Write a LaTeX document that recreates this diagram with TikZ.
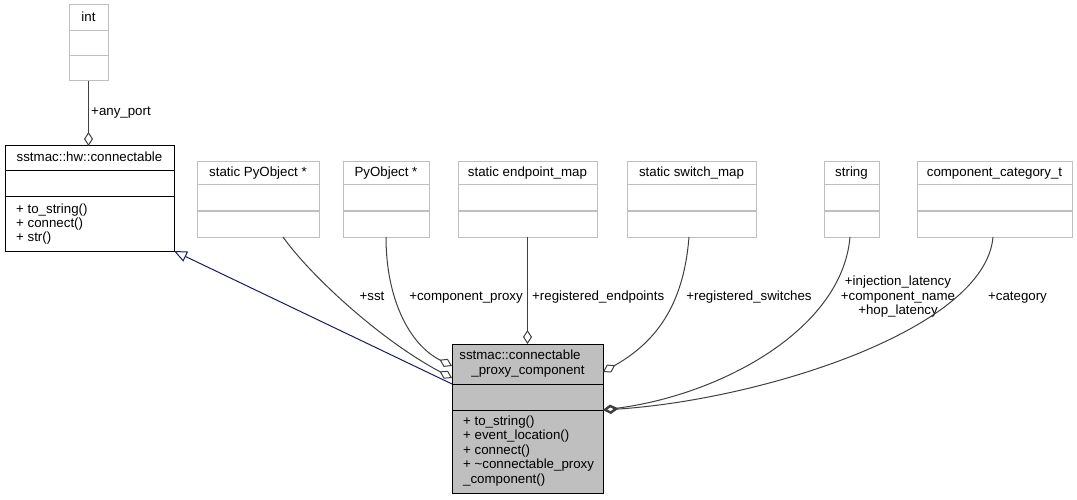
\documentclass[tikz,border=0pt]{standalone}
\usepackage{fontspec}
\setmainfont{Liberation Sans}
\usetikzlibrary{arrows.meta}
\definecolor{edgegray}{HTML}{404040}
\definecolor{boxgray}{HTML}{BFBFBF}
\definecolor{inhblue}{HTML}{191970}
\tikzset{
  umlbox/.style={draw=boxgray, fill=white, inner sep=0pt, outer sep=0pt, anchor=north west, line width=1pt},
  txt/.style={inner sep=0pt, text height=9.5pt, text depth=3pt},
  assoc/.style={draw=edgegray, line width=1pt, -{Diamond[open, length=14pt, width=9pt, line width=1pt]}},
  assocbold/.style={draw=edgegray, line width=1pt, -{Diamond[open, length=15pt, width=9pt, line width=2pt]}},
  inh/.style={draw=inhblue, line width=1pt, -{Triangle[open, length=13pt, width=11pt, line width=1pt]}}
}
\newcommand\cls[8][boxgray]{%
  \node[umlbox, draw=#1, minimum width={#5-#3}, minimum height={#6-#4}] (#2) at (#3,#4) {};
  \draw[#1, line width=1pt] (#3,#7) -- (#5,#7) (#3,#8) -- (#5,#8);
}
\begin{document}
\begin{tikzpicture}[x=1pt, y=-1pt, font=\fontsize{13.3}{14.5}\selectfont]
\useasboundingbox (0,0) rectangle (1077,500);
% classes
\cls{intbox}{69}{5}{108}{81}{31}{56}
\node[txt] (intT) at (88.5,18) {int};
\cls[black]{conn}{5}{146}{174}{251}{171}{197}
\node[txt] (connT) at (89.5,158) {sstmac::hw::connectable};
\node[txt, anchor=west] (connM1) at (16,210) {+ to\_string()};
\node[txt, anchor=west] (connM2) at (16,224) {+ connect()};
\node[txt, anchor=west] (connM3) at (16,238) {+ str()};
\cls{spo}{197}{162}{319}{237}{185}{211}
\node[txt] (spoT) at (258,173) {static PyObject *};
\cls{po}{343}{162}{429}{237}{185}{211}
\node[txt] (poT) at (386,173) {PyObject *};
\cls{epm}{458}{162}{597}{237}{185}{211}
\node[txt] (epmT) at (527.5,173) {static endpoint\_map};
\cls{swm}{627}{162}{756}{237}{185}{211}
\node[txt] (swmT) at (691.5,173) {static switch\_map};
\cls{strb}{824}{162}{879}{237}{185}{211}
\node[txt] (strT) at (851.5,173) {string};
\cls{cct}{917}{162}{1072}{237}{185}{211}
\node[txt] (cctT) at (994.5,173) {component\_category\_t};
% main class
\node[umlbox, draw=black, fill=boxgray, minimum width=151, minimum height=149] (main) at (452,344) {};
\draw[black, line width=1pt] (452,384) -- (603,384) (452,410) -- (603,410);
\node[txt] (mainT1) at (520,356) {sstmac::connectable};
\node[txt] (mainT2) at (528,371) {\_proxy\_component};
\node[txt, anchor=west] (mainM1) at (463,422) {+ to\_string()};
\node[txt, anchor=west] (mainM2) at (463,436.5) {+ event\_location()};
\node[txt, anchor=west] (mainM3) at (463,451) {+ connect()};
\node[txt, anchor=west] (mainM4) at (463,465.5) {+ \textasciitilde connectable\_proxy};
\node[txt, anchor=west] (mainM5) at (463,480) {\_component()};
% connectors
\draw[assoc] (intbox.south) -- (intbox.south |- conn.north);
\node[txt] (lAny) at (121,112) {+any\_port};
\draw[inh] ([yshift=-40pt]main.north west) -- (conn.south east);
\draw[assoc] ([xshift=25pt]spo.south) .. controls (310,275) and (380,340) .. ([yshift=-34pt]main.north west);
\node[txt] (lSst) at (372,297) {+sst};
\draw[assoc] (po.south) .. controls (386,300) and (410,345) .. ([yshift=-22pt]main.north west);
\node[txt] (lProxy) at (466,297) {+component\_proxy};
\draw[assoc] (epm.south) -- (main.north);
\node[txt, anchor=west] (lEnd) at (532,297) {+registered\_endpoints};
\draw[assoc] ([xshift=-2.5pt]swm.south) .. controls (684,300) and (660,340) .. ([yshift=-28pt]main.north east);
\node[txt] (lSw) at (749,297) {+registered\_switches};
\draw[assocbold] ([xshift=-1.5pt]strb.south) .. controls (842,330) and (720,395) .. ([yshift=-66pt]main.north east);
\node[inner sep=0pt, align=center] (lStr) at (898,297) {+injection\_latency\\+component\_name\\+hop\_latency};
\draw[assocbold] ([xshift=-1.5pt]cct.south) .. controls (985,330) and (760,400) .. ([yshift=-66pt]main.north east);
\node[txt] (lCat) at (1017.5,297) {+category};
\end{tikzpicture}
\end{document}
